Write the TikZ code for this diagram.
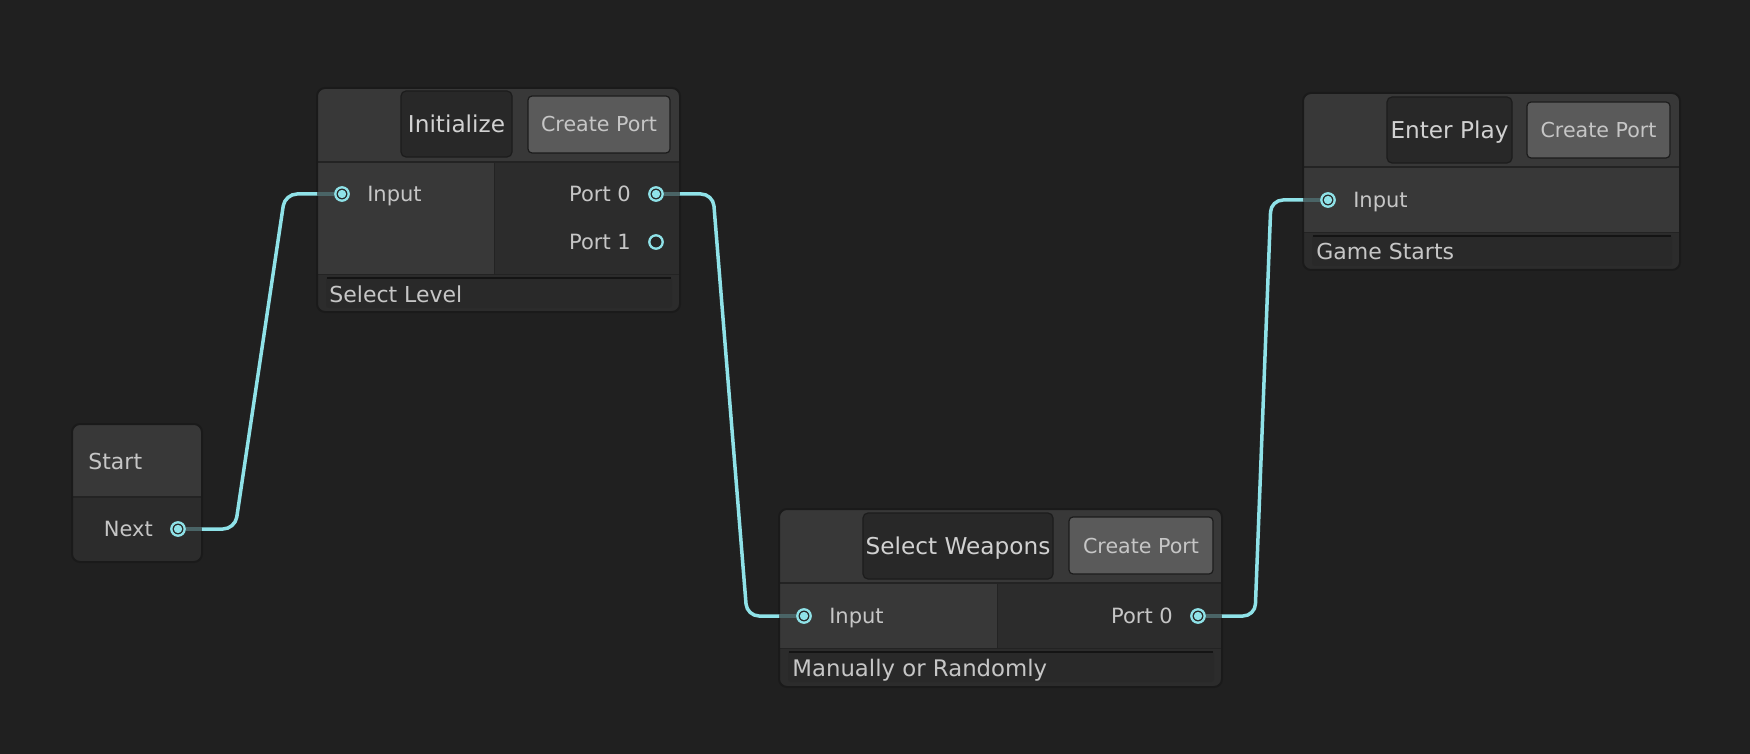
\documentclass[tikz,border=0pt]{standalone}
\usepackage{fontspec}
\setmainfont{DejaVu Sans}
\usepackage{xcolor}
\usetikzlibrary{positioning}
\usetikzlibrary{calc}

\definecolor{bgcol}{HTML}{202020}
\definecolor{headcol}{HTML}{383838}
\definecolor{bodycol}{HTML}{2C2C2C}
\definecolor{sepcol}{HTML}{232323}
\definecolor{bordercol}{HTML}{1A1A1A}
\definecolor{fieldcol}{HTML}{292929}
\definecolor{fieldedge}{HTML}{141414}
\definecolor{btndark}{HTML}{282828}
\definecolor{btnlight}{HTML}{5A5A5A}
\definecolor{btnedge}{HTML}{1C1C1C}
\definecolor{textcol}{HTML}{C6C6C6}
\definecolor{wirecol}{HTML}{8FE2E8}
\definecolor{stubcol}{HTML}{4A6466}
\definecolor{portin}{HTML}{262626}

\tikzset{
  frameline/.style={draw=bordercol, line width=1pt, rounded corners=4pt},
  namebtn/.style={fill=btndark, draw=btnedge, line width=0.6pt, rounded corners=2.5pt,
    text=textcol!80!white, font=\fontsize{11.6}{13}\selectfont,
    text height=8.4pt, text depth=0pt, inner sep=0pt},
  createbtn/.style={fill=btnlight, draw=btnedge, line width=0.6pt, rounded corners=2pt,
    text=textcol, font=\fontsize{10.3}{12}\selectfont,
    text height=7.5pt, text depth=0pt, inner sep=0pt},
  headtext/.style={text=textcol, font=\fontsize{11}{13}\selectfont,
    text height=8pt, text depth=0pt, inner sep=0pt},
  porttext/.style={text=textcol, font=\fontsize{10.5}{12}\selectfont,
    text height=7.6pt, text depth=0pt, inner sep=0pt},
  portempty/.style={circle, draw=wirecol, line width=1.15pt, fill=portin,
    minimum size=6.7pt, inner sep=0pt},
  portfull/.style={portempty,
    path picture={\fill[wirecol] (path picture bounding box.center) circle (2.1pt);}},
  wire/.style={draw=wirecol, line width=1.75pt, rounded corners=6pt},
  stub/.style={draw=stubcol, line width=1.75pt},
}

\begin{document}
\begin{tikzpicture}[x=0.5pt, y=-0.5pt]
  \def\bend{57}
  \useasboundingbox (0,0) rectangle (1750,754);
  \fill[bgcol] (0,0) rectangle (1750,754);

  % Start
  \coordinate (S-nw) at (72,424);
  \coordinate (S-se) at (202,562);
  \begin{scope}
    \clip[rounded corners=4pt] (S-nw) rectangle (S-se);
    \fill[bodycol] (S-nw) rectangle (S-se);
    \fill[headcol] (S-nw) rectangle (202,496);
    \fill[sepcol] (72,496) rectangle (202,498);
  \end{scope}
  \draw[frameline] (S-nw) rectangle (S-se);
  \node[headtext, anchor=west] (S-title) at (88,461) {Start};
  \node[portfull] (S-next) at (178,529) {};
  \node[porttext, left=8.5pt of S-next] (S-nextlbl) {Next};

  % Select Level
  \coordinate (A-nw) at (317,88);
  \coordinate (A-se) at (680,312);
  \begin{scope}
    \clip[rounded corners=4pt] (A-nw) rectangle (A-se);
    \fill[bodycol] (A-nw) rectangle (A-se);
    \fill[headcol] (A-nw) rectangle (680,161);
    \fill[sepcol] (317,161) rectangle (680,163);
    \fill[headcol] (317,163) rectangle (494,274);
    \fill[sepcol] (494,163) rectangle (495,274);
    \fill[sepcol] (317,274) rectangle (680,275);
  \end{scope}
  \draw[frameline] (A-nw) rectangle (A-se);
  \fill[fieldcol, rounded corners=1.5pt] (326,277) rectangle (672,308);
  \draw[fieldedge, line width=1pt] (327,278) -- (671,278);
  \node[namebtn, minimum width=55.5pt, minimum height=33pt] (A-name) at (456.5,124) {Initialize};
  \node[createbtn, minimum width=71pt, minimum height=28.5pt] (A-create) at (599,124.5) {Create Port};
  \node[portfull] (A-in) at (342,194) {};
  \node[portfull] (A-p0) at (656,194) {};
  \node[portempty] (A-p1) at (656,242) {};
  \node[porttext, right=8.5pt of A-in] (A-inlbl) {Input};
  \node[porttext, left=8.5pt of A-p0] (A-p0lbl) {Port 0};
  \node[porttext, left=8.5pt of A-p1] (A-p1lbl) {Port 1};
  \node[headtext, anchor=west] (A-field) at (329,294) {Select Level};

  % Manually or Randomly
  \coordinate (B-nw) at (779,509);
  \coordinate (B-se) at (1222,687);
  \begin{scope}
    \clip[rounded corners=4pt] (B-nw) rectangle (B-se);
    \fill[bodycol] (B-nw) rectangle (B-se);
    \fill[headcol] (B-nw) rectangle (1222,582);
    \fill[sepcol] (779,582) rectangle (1222,584);
    \fill[headcol] (779,584) rectangle (997,648);
    \fill[sepcol] (997,584) rectangle (998,648);
    \fill[sepcol] (779,648) rectangle (1222,649);
  \end{scope}
  \draw[frameline] (B-nw) rectangle (B-se);
  \fill[fieldcol, rounded corners=1.5pt] (788,651) rectangle (1214,682);
  \draw[fieldedge, line width=1pt] (789,652) -- (1213,652);
  \node[namebtn, minimum width=95pt, minimum height=33pt] (B-name) at (958,546) {Select Weapons};
  \node[createbtn, minimum width=72pt, minimum height=28.5pt] (B-create) at (1141,545.5) {Create Port};
  \node[portfull] (B-in) at (804,616) {};
  \node[portfull] (B-p0) at (1198,616) {};
  \node[porttext, right=8.5pt of B-in] (B-inlbl) {Input};
  \node[porttext, left=8.5pt of B-p0] (B-p0lbl) {Port 0};
  \node[headtext, anchor=west, font=\fontsize{11.4}{13}\selectfont] (B-field) at (792,668) {Manually or Randomly};

  % Game Starts
  \coordinate (C-nw) at (1303,93);
  \coordinate (C-se) at (1680,270);
  \begin{scope}
    \clip[rounded corners=4pt] (C-nw) rectangle (C-se);
    \fill[bodycol] (C-nw) rectangle (C-se);
    \fill[headcol] (C-nw) rectangle (1680,166);
    \fill[sepcol] (1303,166) rectangle (1680,168);
    \fill[headcol] (1303,168) rectangle (1680,232);
    \fill[sepcol] (1303,232) rectangle (1680,233);
  \end{scope}
  \draw[frameline] (C-nw) rectangle (C-se);
  \fill[fieldcol, rounded corners=1.5pt] (1312,235) rectangle (1672,266);
  \draw[fieldedge, line width=1pt] (1313,236) -- (1671,236);
  \node[namebtn, minimum width=62.5pt, minimum height=33pt] (C-name) at (1449.5,130) {Enter Play};
  \node[createbtn, minimum width=71.5pt, minimum height=28pt] (C-create) at (1598.5,130) {Create Port};
  \node[portfull] (C-in) at (1328,200) {};
  \node[porttext, right=8.5pt of C-in] (C-inlbl) {Input};
  \node[headtext, anchor=west] (C-field) at (1316,252) {Game Starts};

  % wires
  \draw[wire] (S-next -| S-se) -- ($(S-next)+(\bend,0)$) -- ($(A-in)+(-\bend,0)$) -- (A-in -| A-nw);
  \draw[wire] (A-p0 -| A-se) -- ($(A-p0)+(\bend,0)$) -- ($(B-in)+(-\bend,0)$) -- (B-in -| B-nw);
  \draw[wire] (B-p0 -| B-se) -- ($(B-p0)+(\bend,0)$) -- ($(C-in)+(-\bend,0)$) -- (C-in -| C-nw);

  \draw[stub] (S-next.east) -- (S-next -| S-se);
  \draw[stub] (A-in.west) -- (A-in -| A-nw);
  \draw[stub] (A-p0.east) -- (A-p0 -| A-se);
  \draw[stub] (B-in.west) -- (B-in -| B-nw);
  \draw[stub] (B-p0.east) -- (B-p0 -| B-se);
  \draw[stub] (C-in.west) -- (C-in -| C-nw);

\end{tikzpicture}
\end{document}
